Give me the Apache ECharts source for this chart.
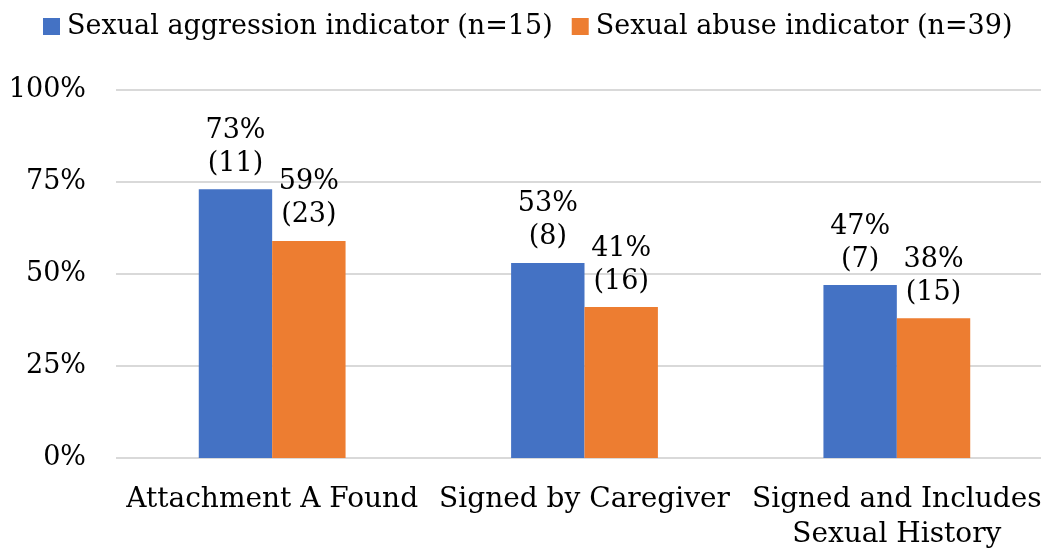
<!DOCTYPE html>
<html>
<head>
<meta charset="utf-8">
<script src="https://cdn.jsdelivr.net/npm/echarts@6/dist/echarts.min.js"></script>
<style>
  html, body { margin: 0; padding: 0; background: #fff; }
  #chart { width: 1041px; height: 548px; }
</style>
</head>
<body>
<div id="chart"></div>
<script>
// 数据
const categories = ['Attachment A Found', 'Signed by Caregiver', 'Signed and Includes\nSexual History']
const aggressionPct = [73, 53, 47]
const aggressionCount = [11, 8, 7]
const abusePct = [59, 41, 38]
const abuseCount = [23, 16, 15]
const yTicks = [0, 25, 50, 75, 100]

const FONT = 'DejaVu Serif'

const chart = echarts.init(document.getElementById('chart'))

const makeLabel = (counts) => ({
  show: true,
  position: 'top',
  distance: 9,
  fontFamily: FONT,
  fontSize: 27,
  lineHeight: 33,
  color: '#000',
  formatter: (p) => p.value + '%\n(' + counts[p.dataIndex] + ')'
})

const option = {
  animation: false,
  textStyle: { fontFamily: FONT },
  legend: {
    top: 8,
    left: 38,
    width: 1000,
    itemWidth: 17,
    itemHeight: 17,
    itemGap: 19,
    icon: 'rect',
    textStyle: { fontFamily: FONT, fontSize: 27, color: '#000', padding: [0, 0, 0, 2] },
    data: ['Sexual aggression indicator (n=15)', 'Sexual abuse indicator (n=39)']
  },
  grid: {
    left: 116,
    right: -12,
    top: 90,
    bottom: 90,
    outerBoundsMode: 'none'
  },
  xAxis: {
    type: 'category',
    data: categories,
    axisLine: { show: false },
    axisTick: { show: false },
    axisLabel: {
      interval: 0,
      margin: 24,
      fontFamily: FONT,
      fontSize: 28,
      lineHeight: 35,
      color: '#000'
    }
  },
  yAxis: {
    type: 'value',
    min: yTicks[0],
    max: yTicks[yTicks.length - 1],
    interval: 25,
    axisLine: { show: false },
    axisTick: { show: false },
    splitLine: { lineStyle: { color: '#d9d9d9', width: 2 } },
    axisLabel: {
      margin: 30,
      fontFamily: FONT,
      fontSize: 27,
      color: '#000',
      formatter: '{value}%'
    }
  },
  series: [
    {
      name: 'Sexual aggression indicator (n=15)',
      type: 'bar',
      barGap: '0%',
      barCategoryGap: '53%',
      itemStyle: { color: '#4472C4' },
      label: makeLabel(aggressionCount),
      data: aggressionPct
    },
    {
      name: 'Sexual abuse indicator (n=39)',
      type: 'bar',
      itemStyle: { color: '#ED7D31' },
      label: makeLabel(abuseCount),
      data: abusePct
    }
  ]
}

chart.setOption(option)
</script>
</body>
</html>
